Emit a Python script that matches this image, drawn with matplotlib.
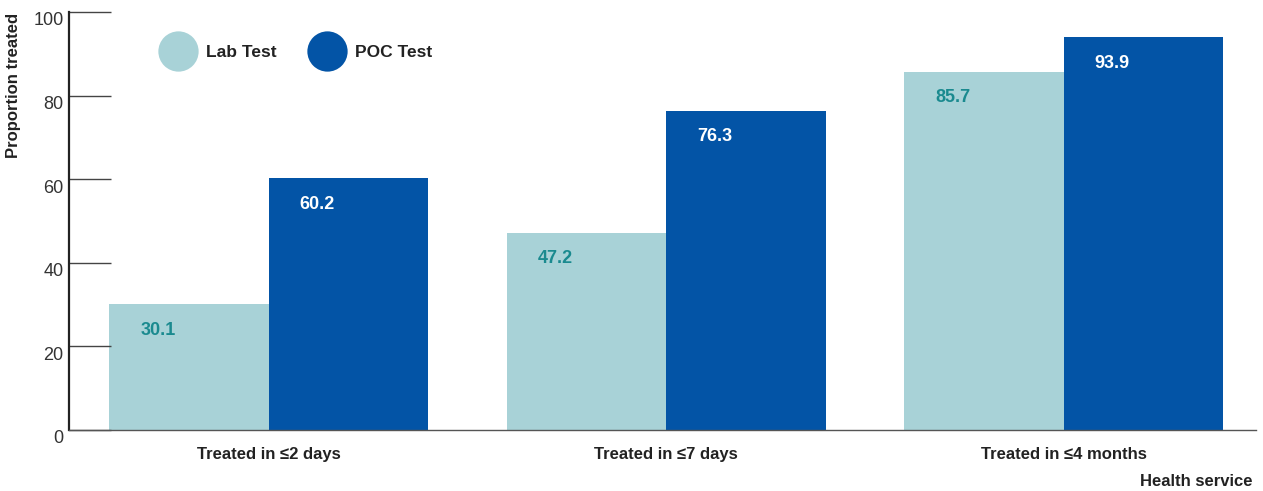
import matplotlib
matplotlib.use("Agg")
import matplotlib.pyplot as plt
import matplotlib.transforms as mtransforms
import numpy as np
from matplotlib.lines import Line2D

plt.rcParams['font.family'] = ['Liberation Sans', 'DejaVu Sans']

categories = ["Treated in \u22642 days", "Treated in \u22647 days", "Treated in \u22644 months"]
series_names = ["Lab Test", "POC Test"]
lab_values = [30.1, 47.2, 85.7]
poc_values = [60.2, 76.3, 93.9]
y_ticks = [0, 20, 40, 60, 80, 100]

lab_color = "#a8d2d7"
poc_color = "#0354a6"
lab_text = "#1a8a8f"

fig = plt.figure(figsize=(12.63, 4.91), dpi=100)
ax = fig.add_axes([0.0546, 0.1242, 0.9399, 0.8514])

x = np.arange(len(categories))
w = 0.401
bars_lab = ax.bar(x - w / 2, lab_values, width=w, color=lab_color, linewidth=0)
bars_poc = ax.bar(x + w / 2, poc_values, width=w, color=poc_color, linewidth=0)

for bars, vals, col in ((bars_lab, lab_values, lab_text), (bars_poc, poc_values, "white")):
    for b, v in zip(bars, vals):
        ax.text(b.get_x() + 0.078, v - 6.2, f"{v:.1f}", ha="left", va="center",
                fontsize=13, fontweight="bold", color=col)

ax.set_xlim(-0.503, 2.484)
ax.set_ylim(0, 100)
ax.set_yticks(y_ticks)
ax.set_yticklabels([str(t) for t in y_ticks], fontsize=13, color="#333333")
ax.tick_params(axis="y", direction="in", length=30, width=1, color="#444444", pad=4)
# tick numbers sit slightly below their tick marks
shift = mtransforms.ScaledTranslation(0, -5 / 72, fig.dpi_scale_trans)
for lbl in ax.get_yticklabels():
    lbl.set_transform(lbl.get_transform() + shift)
ax.set_xticks(x)
ax.set_xticklabels(categories, fontsize=12, fontweight="bold", color="#222222")
ax.tick_params(axis="x", length=0, pad=12)

for s in ("top", "right"):
    ax.spines[s].set_visible(False)
ax.spines["left"].set_color("#222222")
ax.spines["left"].set_linewidth(1.6)
ax.spines["bottom"].set_color("#555555")
ax.spines["bottom"].set_linewidth(1.0)

ax.set_ylabel("Proportion treated", fontsize=12, fontweight="bold", color="#222222")
ax.yaxis.set_label_coords(-0.0405, 0.825)
fig.text(0.992, 0.005, "Health service", ha="right", va="bottom", fontsize=12,
         fontweight="bold", color="#222222")

handles = [Line2D([], [], marker="o", linestyle="none", markersize=29,
                  markerfacecolor=c, markeredgewidth=0) for c in (lab_color, poc_color)]
leg = ax.legend(handles, series_names, loc="upper left", bbox_to_anchor=(0.067, 0.95),
                ncol=2, frameon=False, fontsize=12.5, handletextpad=0.6,
                columnspacing=1.9, borderpad=0.2)
for t in leg.get_texts():
    t.set_fontweight("bold")
    t.set_color("#222222")

fig.savefig("out.png", dpi=100)
